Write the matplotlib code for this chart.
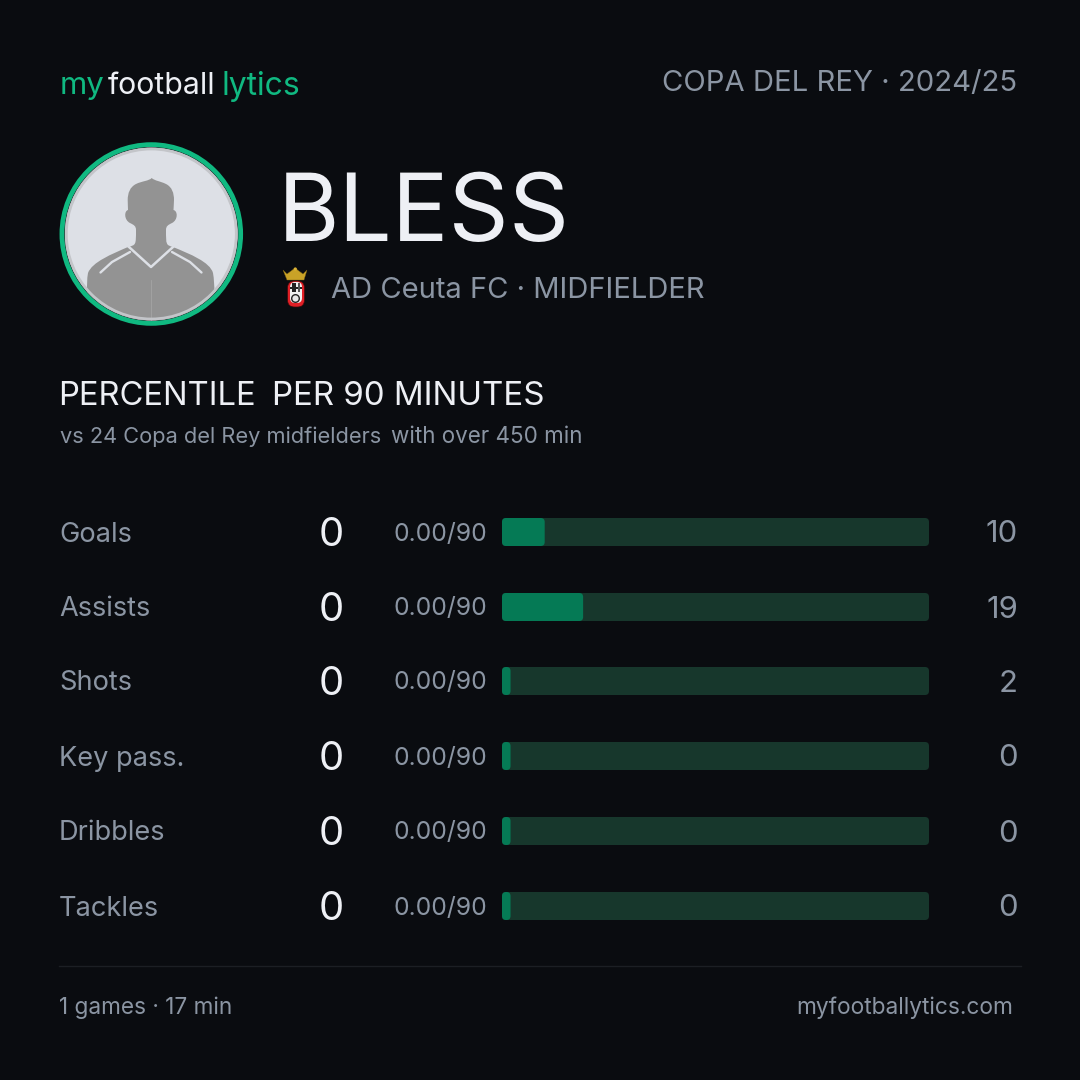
import matplotlib
matplotlib.use('Agg')
import matplotlib.pyplot as plt
from matplotlib.patches import Circle, FancyBboxPatch, Polygon, PathPatch, Rectangle
from matplotlib.path import Path

# Data
metrics = ['Goals', 'Assists', 'Shots', 'Key pass.', 'Dribbles', 'Tackles']
values = [0, 0, 0, 0, 0, 0]
per90 = ['0.00/90', '0.00/90', '0.00/90', '0.00/90', '0.00/90', '0.00/90']
percentiles = [10, 19, 2, 0, 0, 0]

BG = '#0a0c10'
GREEN = '#10b981'
GREY = '#8b95a3'
WHITE = '#eef0f5'
FONT = 'Inter'

plt.rcParams['font.family'] = [FONT, 'DejaVu Sans']

fig = plt.figure(figsize=(10.8, 10.8), dpi=100, facecolor=BG)
ax = fig.add_axes([0, 0, 1, 1])
ax.set_xlim(0, 1080)
ax.set_ylim(1080, 0)
ax.axis('off')
renderer = fig.canvas.get_renderer()


def label(x, y, s, px, color=GREY, ha='left', width=None):
    # font size is given in pixels of the 1080 canvas
    t = ax.text(x, y, s, fontsize=px * 0.72, color=color, ha=ha, va='center_baseline',
                fontweight='normal')
    if width:
        # the original font runs wider than Inter, so scale to the width it takes
        t.set_fontsize(t.get_fontsize() * width / t.get_window_extent(renderer).width)
    return t


# Header
label(60, 82.5, 'my', 30, GREEN, width=45)
label(108, 82.5, 'football', 30, WHITE, width=108)
label(221, 82.5, 'lytics', 30, GREEN, width=79)
label(1017, 81, 'COPA DEL REY · 2024/25', 26, GREY, ha='right', width=354)

# Avatar
cx, cy = 151.3, 234
clip = Circle((cx, cy), 86.5, transform=ax.transData)
ax.add_patch(Circle((cx, cy), 87, fc='#dde0e6', ec='#2a2c30', lw=1, zorder=2))
ax.add_patch(Circle((cx, cy), 85, fc='none', ec='#c3c5c9', lw=2, zorder=4))
ax.add_patch(Circle((cx, cy), 89.4, fc='none', ec=GREEN, lw=3.4, zorder=5))

# silhouette outline, left side then right side
verts = [(151.7, 178),
         (149, 181), (142, 181), (136, 184),
         (130, 187), (127.7, 193), (127.7, 200),
         (127.7, 204), (128, 207), (128, 210),
         (124, 211), (124, 220), (130, 223),
         (134, 225), (136, 226), (136, 230),
         (136, 245), (136, 245), (128, 247),
         (112, 254), (92, 262), (88, 273),
         (86, 285), (87, 300), (90, 325),
         (150, 325), (180, 325), (212, 325),
         (215, 300), (215, 285), (213, 273),
         (210, 262), (190, 254), (173, 247),
         (166, 245), (166, 245), (166, 230),
         (166, 226), (168, 225), (172, 223),
         (178, 220), (178, 211), (173.5, 210),
         (173.5, 207), (174, 204), (174, 200),
         (174, 193), (172, 187), (166, 184),
         (160, 181), (155, 181), (151.7, 178)]
codes = [Path.MOVETO] + [Path.CURVE4] * (len(verts) - 1)
shape = PathPatch(Path(verts, codes), fc='#939393', ec='none', zorder=3)
ax.add_patch(shape)
shape.set_clip_path(clip)
ax.plot([129, 151, 173], [247, 267, 247], color='#dde0e6', lw=1.8, zorder=3)
ax.plot([130, 112, 100.5], [252, 262, 272.5], color='#dde0e6', lw=1.7, zorder=3, solid_capstyle='round')
ax.plot([172, 190, 201.5], [252, 262, 272.5], color='#dde0e6', lw=1.7, zorder=3, solid_capstyle='round')
ax.plot([150.5, 150.5], [280, 320], color='#a8a8a8', lw=0.5, zorder=3)

# Name and club
label(278, 207, 'BLESS', 96, WHITE, width=292)

# club crest
ax.add_patch(FancyBboxPatch((287.5, 281), 17, 26, boxstyle='round,pad=0,rounding_size=7',
                            fc='#e01f26', ec='#3a0a0a', lw=0.5, zorder=2))
ax.add_patch(FancyBboxPatch((290, 282), 12, 21, boxstyle='round,pad=0,rounding_size=5',
                            fc='#f0f0f0', ec='none', zorder=3))
ax.add_patch(Rectangle((292, 283), 3.5, 9, fc='#222222', zorder=4))
ax.add_patch(Rectangle((290, 287), 12, 1.5, fc='#222222', zorder=4))
ax.add_patch(Rectangle((298, 283), 1.5, 9, fc='#555555', zorder=4))
ax.add_patch(Circle((295.5, 298.5), 3.8, fc='#e8e8e8', ec='#222222', lw=1, zorder=4))
ax.add_patch(Polygon([(283, 270), (287, 274), (291, 271), (295, 268), (299, 271), (303, 274), (307, 270),
                      (304, 280), (287, 280)], fc='#c9a227', ec='#7a5f10', lw=0.3, zorder=3))
ax.add_patch(Circle((295.3, 269), 1.6, fc='#d9b136', zorder=3))

label(331, 288, 'AD Ceuta FC · MIDFIELDER', 29.5, GREY, width=374)

# Section title
label(58.5, 393, 'PERCENTILE', 30, WHITE, width=197)
label(272, 393, 'PER 90 MINUTES', 30, WHITE, width=272)
label(60, 434.5, 'vs 24 Copa del Rey midfielders', 21.5, GREY, width=321)
label(391, 434.5, 'with over 450 min', 21.5, GREY, width=191)

# Rows
row_y = [532, 607, 681, 756, 831, 906]
bar_x, bar_w, bar_h = 502, 427, 28
px_per_pct = bar_w / 100
for i, name in enumerate(metrics):
    y = row_y[i]
    label(59, y - 0.5, name, 27.2, GREY)
    label(331, y - 0.5, str(values[i]), 40, WHITE, ha='center')
    label(487.5, y - 0.5, per90[i], 24, GREY, ha='right', width=93)
    ax.add_patch(FancyBboxPatch((bar_x, y - bar_h / 2), bar_w, bar_h,
                                boxstyle='round,pad=0,rounding_size=4', fc='#17372c', ec='none'))
    fill = max(percentiles[i], 2) * px_per_pct
    ax.add_patch(FancyBboxPatch((bar_x, y - bar_h / 2), fill, bar_h,
                                boxstyle='round,pad=0,rounding_size=4', fc='#057a55', ec='none'))
    label(1018, y - 0.5, str(percentiles[i]), 31, GREY, ha='right')

# Footer
ax.plot([59, 1021], [965.5, 965.5], color='#1c1f24', lw=1)
label(59, 1005.5, '1 games · 17 min', 24, GREY, width=173)
label(1013, 1005.5, 'myfootballytics.com', 24, GREY, ha='right', width=218)

fig.savefig('out.png', dpi=100, facecolor=BG)
